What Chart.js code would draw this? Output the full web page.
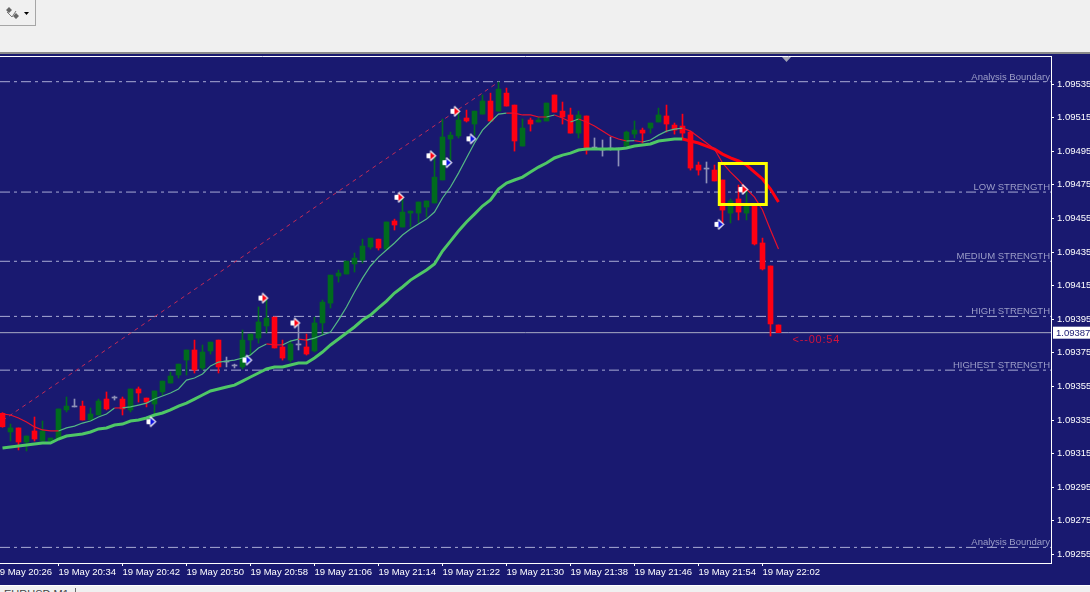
<!DOCTYPE html>
<html>
<head>
<meta charset="utf-8">
<style>
html, body { margin: 0; padding: 0; background: #f0f0f0; overflow: hidden; }
#toolbar { position: absolute; left: 0; top: 0; width: 1090px; height: 52px; background: #f0f0f0; }
#btn { position: absolute; left: -1px; top: -1px; width: 35px; height: 25px; border: 1px solid #a6a6a6; }
#rule { position: absolute; left: 0; top: 52px; width: 1090px; height: 2px; background: #8a8a8a; }
#chartBox { position: absolute; left: 0; top: 54px; width: 1090px; height: 531px; background: #191970; }
#footer { position: absolute; left: 0; top: 585px; width: 1090px; height: 7px; background: #f0f0f0; border-top: 1px solid #fff; overflow: hidden; font: 11px "Liberation Sans", sans-serif; color: #444; }
#footer span { position: absolute; left: 4px; top: 2px; }
#footer i { position: absolute; left: 75px; top: 2px; width: 1px; height: 6px; background: #666; }
canvas { display: block; }
</style>
</head>
<body>
<div id="toolbar">
  <div id="btn">
    <svg width="35" height="25">
      <path d="M6 10 L9 7 L12 10 L9 13 Z M13 16 L16 13 L19 16 L16 19 Z" fill="#666"/>
      <path d="M7 12 L12 17 L16 11" fill="none" stroke="#777" stroke-width="1"/>
      <path d="M24 12 L29 12 L26.5 15 Z" fill="#000"/>
    </svg>
  </div>
</div>
<div id="rule"></div>
<div id="chartBox"><canvas id="grafico" width="1090" height="531"></canvas></div>
<div id="footer"><span>EURUSD,M1</span><i></i></div>
<script src="https://cdn.jsdelivr.net/npm/chart.js@4/dist/chart.umd.min.js"></script>
<script>
// one minute candles, first one is 20:27
const opens = [
  1.093390,1.093279,1.093303,1.093219,1.093285,1.093225,1.093225,1.093237,1.093410,1.093428,
  1.093433,1.093350,1.093380,1.093475,1.093481,1.093475,1.093410,1.093535,1.093481,1.093445,
  1.093517,1.093570,1.093618,1.093707,1.093767,1.093660,1.093761,1.093826,1.093695,1.093672,
  1.093666,1.093826,1.093838,1.093910,1.093963,1.093785,1.093707,1.093797,1.093785,1.093761,
  1.093928,1.094046,1.094207,1.094219,1.094279,1.094302,1.094380,1.094427,1.094368,1.094535,
  1.094499,1.094582,1.094582,1.094618,1.094642,1.094779,1.095023,1.095041,1.095148,1.095112,
  1.095171,1.095249,1.095189,1.095296,1.095225,1.094981,1.095136,1.095124,1.095130,1.095285,
  1.095189,1.095166,1.095058,1.095160,1.094969,1.094957,1.094963,1.094963,1.094981,1.095052,
  1.095076,1.095088,1.095124,1.095160,1.095106,1.095100,1.095064,1.094868,1.094844,1.094838,
  1.094779,1.094582,1.094666,1.094582,1.094630,1.094404,1.094267,1.093916
];
const highs = [
  1.093394,1.093326,1.093303,1.093255,1.093368,1.093344,1.093243,1.093416,1.093487,1.093475,
  1.093463,1.093422,1.093475,1.093517,1.093493,1.093487,1.093535,1.093547,1.093481,1.093523,
  1.093582,1.093636,1.093683,1.093767,1.093826,1.093797,1.093814,1.093826,1.093725,1.093683,
  1.093886,1.093862,1.094023,1.094064,1.093963,1.093826,1.093826,1.093916,1.093862,1.093963,
  1.094064,1.094213,1.094243,1.094296,1.094344,1.094427,1.094433,1.094427,1.094529,1.094546,
  1.094672,1.094594,1.094648,1.094654,1.094921,1.095142,1.095064,1.095189,1.095195,1.095189,
  1.095285,1.095296,1.095362,1.095326,1.095225,1.095142,1.095148,1.095154,1.095237,1.095285,
  1.095243,1.095207,1.095189,1.095160,1.095029,1.095017,1.095035,1.094969,1.095070,1.095130,
  1.095088,1.095118,1.095207,1.095225,1.095118,1.095171,1.095070,1.094886,1.094886,1.094868,
  1.094779,1.094666,1.094749,1.094719,1.094630,1.094433,1.094267,1.093916
];
const lows = [
  1.093307,1.093225,1.093172,1.093166,1.093225,1.093225,1.093225,1.093237,1.093398,1.093428,
  1.093350,1.093350,1.093380,1.093410,1.093469,1.093380,1.093398,1.093457,1.093428,1.093380,
  1.093499,1.093570,1.093600,1.093618,1.093630,1.093648,1.093743,1.093630,1.093666,1.093660,
  1.093654,1.093737,1.093808,1.093868,1.093779,1.093707,1.093695,1.093767,1.093737,1.093755,
  1.093856,1.094017,1.094171,1.094219,1.094231,1.094284,1.094368,1.094362,1.094368,1.094481,
  1.094499,1.094499,1.094523,1.094558,1.094642,1.094779,1.094898,1.095029,1.095124,1.095046,
  1.095171,1.095130,1.095189,1.095219,1.094951,1.094981,1.095070,1.095124,1.095130,1.095183,
  1.095112,1.095058,1.095029,1.094933,1.094963,1.094921,1.094957,1.094862,1.094981,1.095029,
  1.094999,1.095058,1.095124,1.095064,1.095052,1.095029,1.094838,1.094808,1.094761,1.094773,
  1.094517,1.094523,1.094541,1.094541,1.094392,1.094243,1.093850,1.093870
];
const closes = [
  1.093310,1.093303,1.093219,1.093255,1.093237,1.093285,1.093243,1.093416,1.093433,1.093428,
  1.093350,1.093386,1.093463,1.093416,1.093481,1.093416,1.093535,1.093511,1.093457,1.093523,
  1.093582,1.093612,1.093683,1.093767,1.093648,1.093755,1.093814,1.093666,1.093695,1.093672,
  1.093826,1.093862,1.093934,1.093957,1.093779,1.093719,1.093803,1.093797,1.093743,1.093928,
  1.094052,1.094213,1.094225,1.094296,1.094314,1.094386,1.094433,1.094374,1.094529,1.094511,
  1.094588,1.094594,1.094648,1.094654,1.094796,1.095035,1.095046,1.095136,1.095130,1.095189,
  1.095249,1.095130,1.095320,1.095219,1.095011,1.095088,1.095112,1.095136,1.095237,1.095183,
  1.095154,1.095058,1.095166,1.094957,1.094969,1.094957,1.094963,1.094963,1.095064,1.095076,
  1.095058,1.095118,1.095166,1.095112,1.095076,1.095058,1.094850,1.094838,1.094844,1.094773,
  1.094600,1.094654,1.094588,1.094636,1.094398,1.094249,1.093922,1.093870
];
const fastMA = [
  1.093386,1.093380,1.093362,1.093338,1.093309,1.093291,1.093285,1.093285,1.093303,1.093314,
  1.093332,1.093344,1.093368,1.093386,1.093422,1.093422,1.093428,1.093439,1.093451,1.093475,
  1.093493,1.093511,1.093535,1.093588,1.093600,1.093624,1.093672,1.093695,1.093701,1.093707,
  1.093719,1.093737,1.093779,1.093803,1.093797,1.093797,1.093820,1.093832,1.093826,1.093838,
  1.093856,1.093874,1.093945,1.094023,1.094112,1.094195,1.094267,1.094320,1.094362,1.094404,
  1.094451,1.094487,1.094517,1.094546,1.094588,1.094672,1.094737,1.094820,1.094910,1.094999,
  1.095076,1.095124,1.095171,1.095177,1.095177,1.095166,1.095166,1.095154,1.095154,1.095166,
  1.095148,1.095124,1.095142,1.095124,1.095100,1.095070,1.095041,1.095023,1.095011,1.095013,
  1.095005,1.095017,1.095046,1.095070,1.095082,1.095088,1.095070,1.095035,1.094999,1.094963,
  1.094880,1.094826,1.094779,1.094725,1.094677,1.094600,1.094481,1.094368
];
const slowMA = [
  1.093184,1.093190,1.093195,1.093201,1.093207,1.093213,1.093213,1.093237,1.093255,1.093261,
  1.093267,1.093279,1.093297,1.093303,1.093320,1.093326,1.093344,1.093350,1.093362,1.093380,
  1.093392,1.093410,1.093433,1.093451,1.093475,1.093499,1.093523,1.093535,1.093547,1.093558,
  1.093582,1.093606,1.093630,1.093654,1.093666,1.093666,1.093678,1.093689,1.093689,1.093719,
  1.093755,1.093797,1.093832,1.093868,1.093904,1.093945,1.093975,1.094017,1.094058,1.094106,
  1.094142,1.094183,1.094213,1.094243,1.094279,1.094356,1.094415,1.094475,1.094529,1.094576,
  1.094624,1.094660,1.094725,1.094761,1.094779,1.094796,1.094826,1.094856,1.094880,1.094910,
  1.094927,1.094939,1.094957,1.094963,1.094963,1.094963,1.094963,1.094963,1.094969,1.094981,
  1.094987,1.094993,1.095011,1.095017,1.095023,1.095023,1.095011,1.094999,1.094981,1.094963,
  1.094933,1.094910,1.094892,1.094868,1.094826,1.094785,1.094725,1.094648
];

const xTickValues = [-1, 7, 15, 23, 31, 39, 47, 55, 63, 71, 79, 87, 95];
const xTickLabels = ['19 May 20:26', '19 May 20:34', '19 May 20:42', '19 May 20:50', '19 May 20:58', '19 May 21:06',
  '19 May 21:14', '19 May 21:22', '19 May 21:30', '19 May 21:38', '19 May 21:46', '19 May 21:54', '19 May 22:02'];
const yTickValues = [1.09535, 1.09515, 1.09495, 1.09475, 1.09455, 1.09435, 1.09415, 1.09395, 1.09375, 1.09355, 1.09335, 1.09315, 1.09295, 1.09275, 1.09255];

const levelPrices = [1.095364, 1.094707, 1.094295, 1.093967, 1.093647, 1.092592];
const levelNames = ['Analysis Boundary', 'LOW STRENGTH', 'MEDIUM STRENGTH', 'HIGH STRENGTH', 'HIGHEST STRENGTH', 'Analysis Boundary'];
const bidPrice = 1.09387;

const trendX = [0, 62];
const trendY = [1.093347, 1.095362];
const boxX = [89.6, 95.475, 95.475, 89.6, 89.6];
const boxY = [1.094877, 1.094877, 1.094633, 1.094633, 1.094877];

const sellArrowX = [33, 37, 50, 54, 57, 93];
const sellArrowY = [1.094076, 1.093928, 1.094676, 1.094923, 1.095188, 1.094723];
const buyArrowX = [19, 31, 56, 59, 90];
const buyArrowY = [1.093340, 1.093707, 1.094882, 1.095024, 1.094515];

const XMIN = -0.3125, XMAX = 131.0625, YMIN = 1.092499, YMAX = 1.095517;
const UP = '#006b1e', DOWN = '#ff0012', FLAT = '#8f92b8';
const FONT = '"Liberation Sans", sans-serif';

const candleColor = (i) => closes[i] > opens[i] ? UP : (closes[i] < opens[i] ? DOWN : FLAT);
const aPuntos = (ys) => ys.map((y, i) => ({x: i, y: y}));
const aPares = (xs, ys) => xs.map((x, i) => ({x: x, y: ys[i]}));

// white edged arrow, tip sits three pixels left of the candle
const flecha = (color) => {
  const c = document.createElement('canvas');
  c.width = 22; c.height = 13;
  const g = c.getContext('2d');
  g.beginPath();
  g.moveTo(3.5, 4.5); g.lineTo(7, 4.5); g.lineTo(7, 1.5); g.lineTo(12.5, 6.5);
  g.lineTo(7, 11.5); g.lineTo(7, 8.5); g.lineTo(3.5, 8.5); g.closePath();
  g.fillStyle = '#fff'; g.fill();
  g.strokeStyle = '#fff'; g.lineWidth = 1; g.stroke();
  g.beginPath();
  g.moveTo(7, 3); g.lineTo(11.5, 6.5); g.lineTo(7, 10); g.closePath();
  g.fillStyle = color; g.fill();
  return c;
};

const levelDatasets = levelPrices.map(p => ({
  type: 'line', data: [{x: XMIN, y: p}, {x: XMAX, y: p}],
  borderColor: '#a9abd4', borderWidth: 1, borderDash: [10, 4, 3, 4], pointRadius: 0, order: 9
}));

const sinRelleno = (s) => { s.paddingLeft = 0; s.paddingRight = 0; s.paddingTop = 0; s.paddingBottom = 0; };

const decor = {
  id: 'decor',
  afterDraw(chart) {
    const {ctx, chartArea, scales} = chart;
    const xs = scales.x, ys = scales.y;
    ctx.save();
    ctx.strokeStyle = '#fff';
    ctx.lineWidth = 1;
    ctx.beginPath();
    ctx.moveTo(chartArea.left, chartArea.top + 0.5);
    ctx.lineTo(chartArea.right, chartArea.top + 0.5);
    ctx.stroke();

    // chart shift marker
    ctx.fillStyle = '#a0a2b4';
    ctx.beginPath();
    ctx.moveTo(782, chartArea.top + 1); ctx.lineTo(791, chartArea.top + 1); ctx.lineTo(786.5, chartArea.top + 6);
    ctx.closePath(); ctx.fill();

    ctx.font = '9.5px ' + FONT;
    ctx.textAlign = 'right';
    ctx.textBaseline = 'alphabetic';
    ctx.fillStyle = '#9c9ec8';
    levelPrices.forEach((p, i) => ctx.fillText(levelNames[i], chartArea.right - 1, ys.getPixelForValue(p) - 2));

    // bid label on the axis
    const by = ys.getPixelForValue(bidPrice);
    ctx.fillStyle = '#fff';
    ctx.fillRect(chartArea.right + 2, by - 6, 37, 12);
    ctx.fillStyle = '#191970';
    ctx.textAlign = 'left';
    ctx.textBaseline = 'middle';
    ctx.fillText(bidPrice.toFixed(5), chartArea.right + 5, by + 0.5);

    // countdown next to the last candle
    ctx.fillStyle = '#d0143c';
    ctx.font = '11px ' + FONT;
    ctx.letterSpacing = '0.8px';
    ctx.fillText('<--00:54', xs.getPixelForValue(opens.length - 1) + 14, by + 7);
    ctx.restore();
  }
};

new Chart(document.getElementById('grafico'), {
  type: 'bar',
  data: {
    datasets: [
      ...levelDatasets,
      {type: 'line', data: [{x: XMIN, y: bidPrice}, {x: XMAX, y: bidPrice}], borderColor: '#a9abc4', borderWidth: 1, pointRadius: 0, order: 9},
      {type: 'line', data: aPares(trendX, trendY), borderColor: '#c22c58', borderWidth: 1, borderDash: [4, 4], pointRadius: 0, order: 8},
      {data: lows.map((l, i) => ({x: i, y: [l, highs[i]]})), backgroundColor: lows.map((l, i) => candleColor(i)),
        barThickness: 1, grouped: false, order: 7},
      {data: opens.map((o, i) => ({x: i, y: [o, closes[i]]})), backgroundColor: opens.map((o, i) => candleColor(i)),
        barThickness: 5, minBarLength: 1, grouped: false, order: 6},
      {type: 'line', data: aPuntos(slowMA), borderWidth: 3, pointRadius: 0, order: 5,
        segment: {borderColor: c => c.p1.parsed.y < c.p0.parsed.y ? '#ff0010' : '#4fc766'}},
      {type: 'line', data: aPuntos(fastMA), borderWidth: 1.2, pointRadius: 0, order: 4,
        segment: {borderColor: c => c.p1.parsed.y <= c.p0.parsed.y ? '#e8102c' : '#55b885'}},
      {type: 'line', data: aPares(boxX, boxY), borderColor: '#ffff00', borderWidth: 3, pointRadius: 0, borderJoinStyle: 'miter', borderCapStyle: 'square', order: 3},
      {type: 'scatter', data: aPares(sellArrowX, sellArrowY), pointStyle: flecha('#ff0012'), order: 2},
      {type: 'scatter', data: aPares(buyArrowX, buyArrowY), pointStyle: flecha('#0a10e0'), order: 2}
    ]
  },
  options: {
    responsive: false,
    animation: false,
    layout: {autoPadding: false, padding: {top: 2, left: 0, right: 0, bottom: 0}},
    plugins: {legend: {display: false}, tooltip: {enabled: false}},
    scales: {
      x: {
        type: 'linear', position: 'bottom', min: XMIN, max: XMAX, offset: false,
        afterBuildTicks: s => { s.ticks = xTickValues.map(v => ({value: v})); },
        afterFit: s => { s.height = 22; sinRelleno(s); },
        border: {color: '#fff', width: 1},
        grid: {offset: false, drawOnChartArea: false, color: '#fff', tickLength: 3},
        ticks: {
          color: '#fff', align: 'start', padding: 1, autoSkip: false, maxRotation: 0,
          font: {family: FONT, size: 9.5},
          callback: v => xTickLabels[xTickValues.indexOf(v)]
        }
      },
      y: {
        type: 'linear', position: 'right', min: YMIN, max: YMAX,
        afterBuildTicks: s => { s.ticks = yTickValues.map(v => ({value: v})); },
        afterFit: s => { s.width = 39; sinRelleno(s); },
        border: {color: '#fff', width: 1},
        grid: {drawOnChartArea: false, color: '#fff', tickLength: 3},
        ticks: {
          color: '#fff', padding: 3, autoSkip: false,
          font: {family: FONT, size: 9.5},
          callback: v => v.toFixed(5)
        }
      }
    }
  },
  plugins: [decor]
});
</script>
</body>
</html>
